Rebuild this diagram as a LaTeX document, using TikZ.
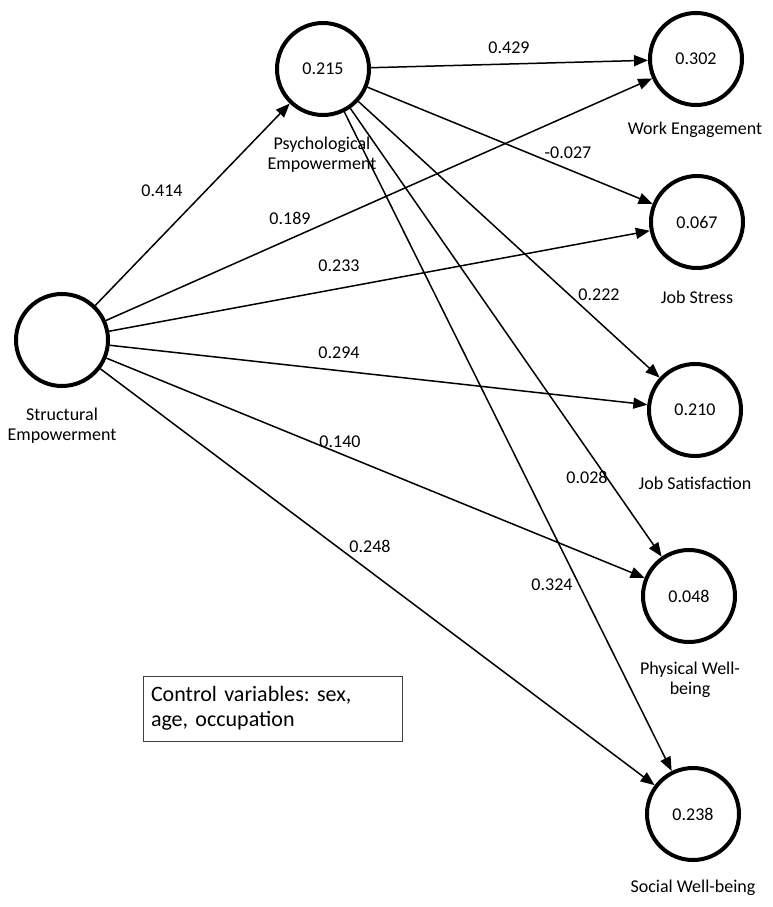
\documentclass[tikz,border=0pt]{standalone}
\usepackage{fontspec}
\setmainfont{Carlito}
\usetikzlibrary{arrows.meta}
\frenchspacing
\begin{document}
\begin{tikzpicture}[x=1pt,y=-1pt,
  lv/.style={circle,draw=black,line width=4pt,minimum size=92pt,inner sep=0pt,font=\fontsize{18}{22}\selectfont},
  lab/.style={font=\fontsize{18}{20}\selectfont,align=center,inner sep=0pt},
  pathline/.style={line width=1.5pt,-{Triangle[length=14pt,width=11pt]}},
  coef/.style={font=\fontsize{18}{22}\selectfont,inner sep=0pt},
  ctrl/.style={draw=black!75,line width=0.8pt,font=\fontsize{22}{25}\selectfont\frenchspacing,align=left,text width=243pt,inner xsep=8pt,inner ysep=0pt,minimum height=65pt}]
\useasboundingbox (0,0) rectangle (773,907);
\fill[white] (0,0) rectangle (773,907);

% latent variables
\node[lv] (SE) at (62,340) {};
\node[lv] (PE) at (323,69) {0.215};
\node[lv] (WE) at (696,59) {0.302};
\node[lv] (JS) at (697,222) {0.067};
\node[lv] (JT) at (695,410) {0.210};
\node[lv] (PW) at (689,596) {0.048};
\node[lv] (SW) at (693,814) {0.238};

% names
\node[lab] (SEl) at (62,426) {Structural\\Empowerment};
\node[lab] (PEl) at (322,155) {Psychological\\Empowerment};
\node[lab] (WEl) at (695,130) {Work Engagement};
\node[lab] (JSl) at (697,297) {Job Stress};
\node[lab] (JTl) at (695,483) {Job Satisfaction};
\node[lab] (PWl) at (690,680) {Physical Well-\\being};
\node[lab] (SWl) at (693,888) {Social Well-being};

% paths
\draw[pathline] (SE) -- (PE);
\draw[pathline] (SE) -- (WE);
\draw[pathline] (SE) -- (JS);
\draw[pathline] (SE) -- (JT);
\draw[pathline] (SE) -- (PW);
\draw[pathline] (SE) -- (SW);
\draw[pathline] (PE) -- (WE);
\draw[pathline] (PE) -- (JS);
\draw[pathline] (PE) -- (JT);
\draw[pathline] (PE) -- (PW);
\draw[pathline] (PE) -- (SW);

% coefficients
\node[coef] (c1) at (162,191) {0.414};
\node[coef] (c2) at (290,218) {0.189};
\node[coef] (c3) at (339,266) {0.233};
\node[coef] (c4) at (339,353) {0.294};
\node[coef] (c5) at (340,442) {0.140};
\node[coef] (c6) at (370,546) {0.248};
\node[coef] (c7) at (509,48) {0.429};
\node[coef] (c8) at (568,153) {-0.027};
\node[coef] (c9) at (599,295) {0.222};
\node[coef] (c10) at (587,477) {0.028};
\node[coef] (c11) at (552,585) {0.324};

% control box
\node[ctrl] (ctrl) at (272.5,708.5) {Control variables: sex,\\age, occupation};
\end{tikzpicture}
\end{document}
